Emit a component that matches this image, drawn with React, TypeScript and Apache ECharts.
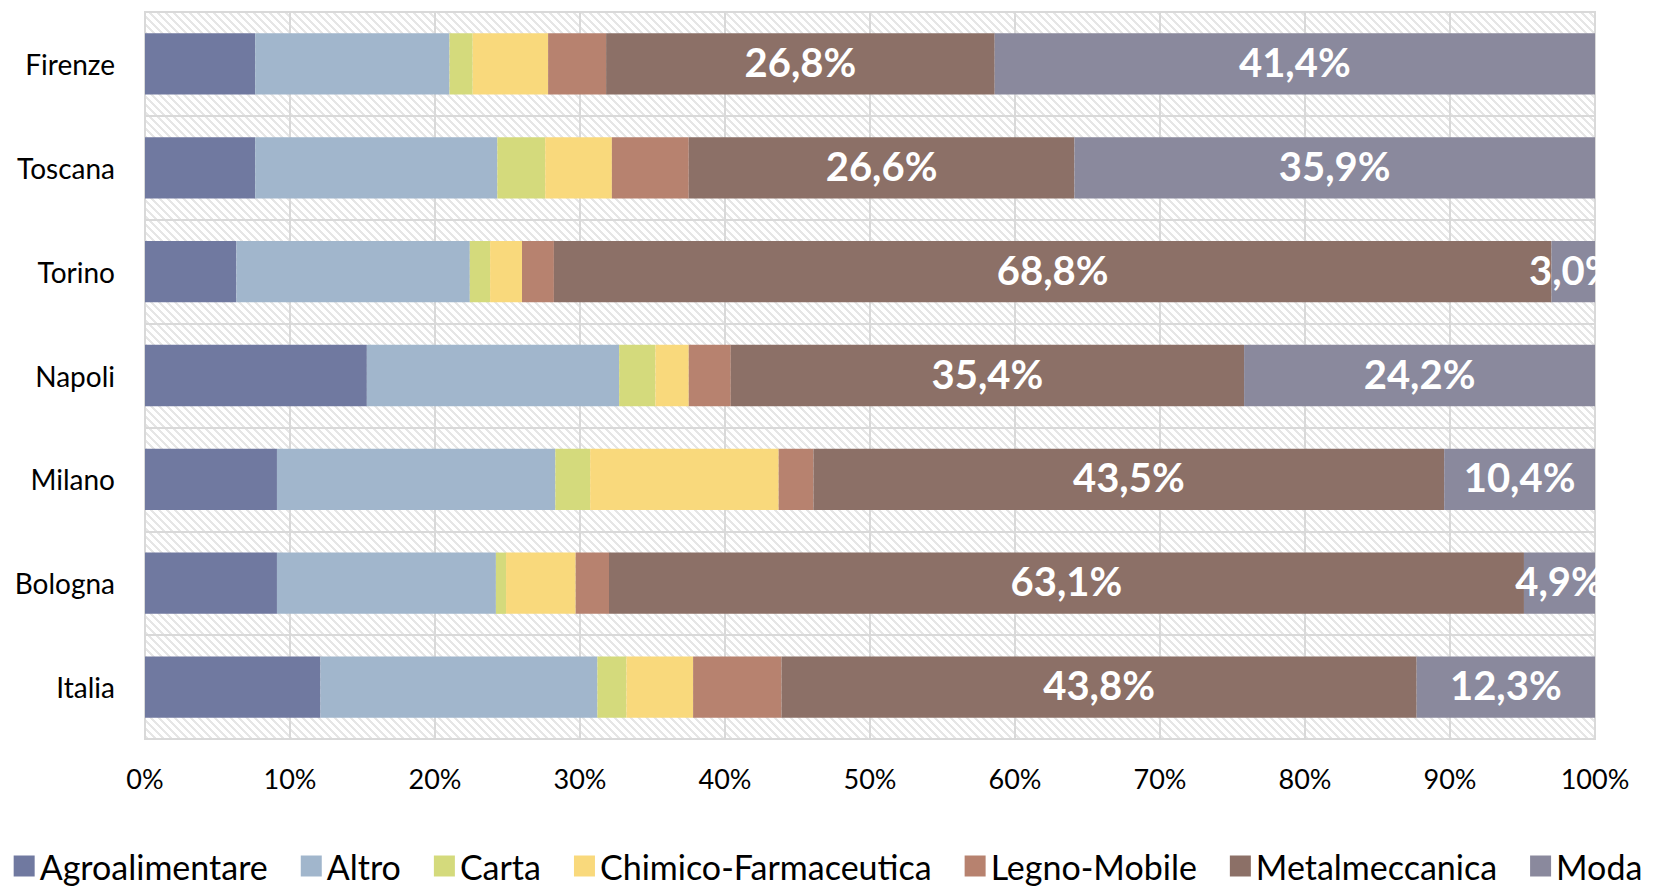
import React, { useEffect, useRef } from "react";
import * as echarts from "echarts";

const categories = ["Firenze", "Toscana", "Torino", "Napoli", "Milano", "Bologna", "Italia"];
const seriesNames = ["Agroalimentare", "Altro", "Carta", "Chimico-Farmaceutica", "Legno-Mobile", "Metalmeccanica", "Moda"];
const agroalimentare = [7.6, 7.6, 6.3, 15.3, 9.1, 9.1, 12.1];
const altro = [13.4, 16.7, 16.1, 17.4, 19.2, 15.1, 19.1];
const carta = [1.6, 3.3, 1.4, 2.5, 2.4, 0.7, 2.0];
const chimico = [5.2, 4.6, 2.2, 2.3, 13.0, 4.8, 4.6];
const legno = [4.0, 5.3, 2.2, 2.9, 2.4, 2.3, 6.1];
const metalmeccanica = [26.8, 26.6, 68.8, 35.4, 43.5, 63.1, 43.8];
const moda = [41.4, 35.9, 3.0, 24.2, 10.4, 4.9, 12.3];
const xTicks = [0, 10, 20, 30, 40, 50, 60, 70, 80, 90, 100];

const values = [agroalimentare, altro, carta, chimico, legno, metalmeccanica, moda];
const colors = ["#7079A0", "#A1B6CC", "#D4DA7C", "#F9D97C", "#B7826F", "#8C7067", "#8A899D"];
const labelled = [false, false, false, false, false, true, true];

const FONT = "Lato, 'Open Sans', sans-serif";

function makeHatch(): string {
  const n = 8;
  const c = document.createElement("canvas");
  c.width = n;
  c.height = n;
  const ctx = c.getContext("2d")!;
  ctx.fillStyle = "#ffffff";
  ctx.fillRect(0, 0, n, n);
  ctx.fillStyle = "#e6e6e6";
  for (let y = 0; y < n; y++) {
    for (let x = 0; x < n; x++) {
      const d = (((x - y) % n) + n) % n;
      if (d < 3) ctx.fillRect(x, y, 1, 1);
    }
  }
  return c.toDataURL();
}

export default function App() {
  const ref = useRef<HTMLDivElement>(null);
  useEffect(() => {
    if (!ref.current) return;
    const chart = echarts.init(ref.current, undefined, { renderer: "svg" });
    const W = 1656;
    const gridLeft = 145;
    const gridRight = 61;
    const gridTop = 12;
    const gridBottom = 149;
    const hatch = makeHatch();
    chart.setOption({
      animation: false,
      backgroundColor: "#ffffff",
      textStyle: { fontFamily: FONT },
      grid: {
        left: gridLeft,
        right: gridRight,
        top: gridTop,
        bottom: gridBottom,
        show: true,
        borderColor: "#d9d9d9",
        borderWidth: 2,
        backgroundColor: { image: hatch, repeat: "repeat", imageWidth: 8, imageHeight: 8 },
      },
      legend: {
        data: seriesNames,
        left: "center",
        top: 844,
        icon: "rect",
        itemWidth: 21,
        itemHeight: 21,
        itemGap: 33,
        textStyle: { fontFamily: FONT, fontSize: 34, color: "#000000" },
      },
      xAxis: {
        type: "value",
        min: 0,
        max: 100,
        interval: 10,
        axisLine: { show: false },
        axisTick: { show: false },
        splitLine: { show: true, lineStyle: { color: "#d9d9d9", width: 2 } },
        axisLabel: {
          margin: 26,
          fontFamily: FONT,
          fontSize: 27,
          color: "#000000",
          formatter: (v: number) => (xTicks.includes(v) ? v + "%" : ""),
        },
      },
      yAxis: {
        type: "category",
        data: categories,
        inverse: true,
        axisLine: { show: false },
        axisTick: { show: false },
        splitLine: { show: true, lineStyle: { color: "#d9d9d9", width: 2 } },
        axisLabel: { margin: 30, fontFamily: FONT, fontSize: 28, color: "#000000" },
      },
      series: seriesNames.map((name, i) => ({
        name,
        type: "bar",
        stack: "total",
        barCategoryGap: "41%",
        data: values[i],
        itemStyle: { color: colors[i] },
        label: {
          show: labelled[i],
          position: "inside",
          offset: [0, -2],
          color: "#ffffff",
          fontFamily: FONT,
          fontWeight: "bold",
          fontSize: 40,
          formatter: (p: any) => p.value.toFixed(1).replace(".", ",") + "%",
        },
      })),
      graphic: [
        {
          type: "rect",
          z: 1000,
          shape: { x: W - gridRight + 1, y: 0, width: gridRight, height: 760 },
          style: { fill: "#ffffff" },
        },
      ],
    });
    return () => chart.dispose();
  }, []);
  return <div ref={ref} style={{ position: "fixed", left: 0, top: 0, width: 1656, height: 888 }} />;
}
